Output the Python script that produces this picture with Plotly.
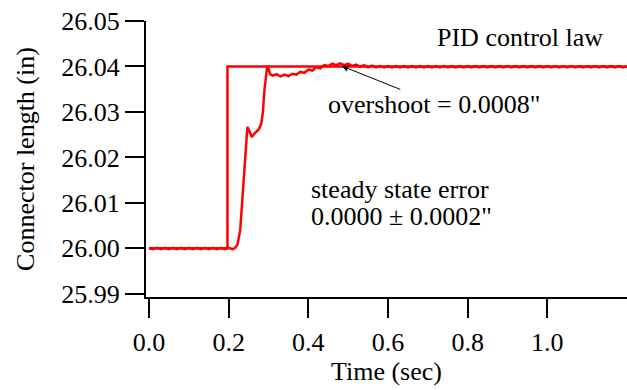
import plotly.graph_objects as go

# Reference (commanded) step
step_t = [0.0, 0.197, 0.197, 1.2]
step_y = [26.00, 26.00, 26.04, 26.04]

# Measured connector length response
resp_t = [0.00, 0.01, 0.02, 0.03, 0.04, 0.05, 0.06, 0.07, 0.08, 0.09,
          0.10, 0.11, 0.12, 0.13, 0.14, 0.15, 0.16, 0.17, 0.18, 0.19,
          0.20, 0.21, 0.215, 0.222, 0.229, 0.236, 0.242, 0.247, 0.252, 0.258,
          0.264, 0.270, 0.276, 0.282, 0.286, 0.290, 0.294, 0.297, 0.300, 0.304,
          0.31, 0.32, 0.33, 0.34, 0.35, 0.36, 0.37, 0.38, 0.39, 0.40,
          0.41, 0.42, 0.43, 0.44, 0.45, 0.46, 0.47, 0.48, 0.49, 0.50,
          0.51, 0.52, 0.53, 0.54, 0.55, 0.56, 0.57, 0.58, 0.59, 0.60,
          0.61, 0.62, 0.63, 0.64, 0.65, 0.66, 0.67, 0.68, 0.69, 0.70,
          0.71, 0.72, 0.73, 0.74, 0.75, 0.76, 0.77, 0.78, 0.79, 0.80,
          0.81, 0.82, 0.83, 0.84, 0.85, 0.86, 0.87, 0.88, 0.89, 0.90,
          0.91, 0.92, 0.93, 0.94, 0.95, 0.96, 0.97, 0.98, 0.99, 1.00,
          1.01, 1.02, 1.03, 1.04, 1.05, 1.06, 1.07, 1.08, 1.09, 1.10,
          1.11, 1.12, 1.13, 1.14, 1.15, 1.16, 1.17, 1.18, 1.19, 1.20]
resp_y = [26.0000, 25.9998, 26.0001, 25.9998, 26.0001, 25.9998, 26.0001, 25.9998, 26.0001, 25.9998,
          26.0001, 25.9998, 26.0001, 25.9998, 26.0001, 25.9998, 26.0001, 25.9998, 26.0001, 25.9998,
          26.0001, 25.9998, 26.0000, 26.0008, 26.0040, 26.0130, 26.0220, 26.0267, 26.0258, 26.0245,
          26.0252, 26.0258, 26.0262, 26.0275, 26.0300, 26.0350, 26.0390, 26.0402, 26.0395, 26.0383,
          26.0380, 26.0383, 26.0378, 26.0382, 26.0379, 26.0384, 26.0382, 26.0388, 26.0386, 26.0393,
          26.0391, 26.0398, 26.0396, 26.0403, 26.0401, 26.0406, 26.0403, 26.0407, 26.0403, 26.0406,
          26.0401, 26.0404, 26.0399, 26.0403, 26.0398, 26.0402, 26.0398, 26.0401, 26.0398, 26.0401,
          26.0398, 26.0401, 26.0398, 26.0401, 26.0398, 26.0401, 26.0398, 26.0401, 26.0398, 26.0401,
          26.0398, 26.0401, 26.0398, 26.0401, 26.0398, 26.0401, 26.0398, 26.0401, 26.0398, 26.0401,
          26.0398, 26.0401, 26.0398, 26.0401, 26.0398, 26.0401, 26.0398, 26.0401, 26.0398, 26.0401,
          26.0398, 26.0401, 26.0398, 26.0401, 26.0398, 26.0401, 26.0398, 26.0401, 26.0398, 26.0401,
          26.0398, 26.0401, 26.0398, 26.0401, 26.0398, 26.0401, 26.0398, 26.0401, 26.0398, 26.0401,
          26.0398, 26.0401, 26.0398, 26.0401, 26.0398, 26.0401, 26.0398, 26.0401, 26.0398, 26.0400]

x_ticks = [0.0, 0.2, 0.4, 0.6, 0.8, 1.0]
y_ticks = [25.99, 26.00, 26.01, 26.02, 26.03, 26.04, 26.05]

FONT = "Liberation Serif"
FS = 26

fig = go.Figure()
fig.add_trace(go.Scatter(x=resp_t, y=resp_y, mode="lines",
                         line=dict(color="#ff0000", width=2.5), showlegend=False))
fig.add_trace(go.Scatter(x=step_t, y=step_y, mode="lines",
                         line=dict(color="#ff0000", width=2.5), showlegend=False))

axis_common = dict(showgrid=False, zeroline=False, showline=True, linecolor="black",
                   linewidth=2, ticks="outside", ticklen=19, tickwidth=2, tickcolor="black",
                   tickfont=dict(family=FONT, size=FS, color="black"))

fig.update_xaxes(range=[-0.0075, 1.2], tickvals=x_ticks, tickformat=".1f",
                 ticklabelstandoff=2,
                 title=dict(text="Time (sec)", font=dict(family=FONT, size=FS, color="black"),
                            standoff=0),
                 **axis_common)
fig.update_yaxes(range=[25.9893, 26.05], tickvals=y_ticks, tickformat=".2f",
                 title=dict(text="Connector length (in)", font=dict(family=FONT, size=FS, color="black"),
                            standoff=19),
                 **axis_common)

fig.add_annotation(x=1.0, y=26.0464, xref="paper", yref="y", text="PID control law",
                   showarrow=False, xanchor="right", yanchor="middle", xshift=-22,
                   font=dict(family=FONT, size=FS, color="black"))
# arrow
fig.add_annotation(x=0.484, y=26.0401, text="",
                   showarrow=True, arrowhead=2, arrowsize=1.3, arrowwidth=1, arrowcolor="black",
                   ax=60, ay=24, standoff=0)
fig.add_annotation(x=0.716, y=26.0316, text="overshoot = 0.0008\"",
                   showarrow=False, xanchor="center", yanchor="middle",
                   font=dict(family=FONT, size=FS, color="black"))
fig.add_annotation(x=0.402, y=26.0129, text="steady state error",
                   showarrow=False, xanchor="left", yanchor="middle",
                   font=dict(family=FONT, size=FS, color="black"))
fig.add_annotation(x=0.402, y=26.0071, text="0.0000 ± 0.0002\"",
                   showarrow=False, xanchor="left", yanchor="middle",
                   font=dict(family=FONT, size=FS, color="black"))

fig.update_layout(width=627, height=390, margin=dict(l=146, r=0, t=21, b=93),
                  plot_bgcolor="white", paper_bgcolor="white",
                  font=dict(family=FONT, size=FS, color="black"))

fig.write_html("out.html")
